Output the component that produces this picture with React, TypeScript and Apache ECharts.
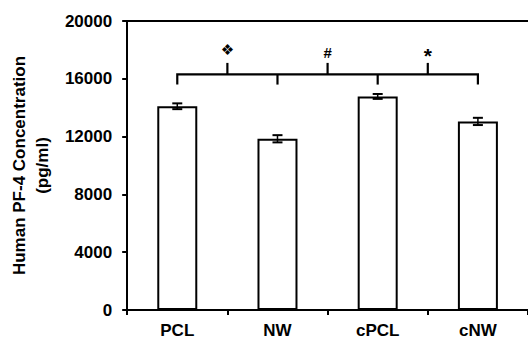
import React, { useEffect, useRef } from "react";
import * as echarts from "echarts";

const categories = ["PCL", "NW", "cPCL", "cNW"];
const means = [14100, 11850, 14780, 13050];
const errors = [200, 250, 170, 250];
const yTicks = { min: 0, max: 20000, interval: 4000 };

// significance bracket
const bracketFrom = 0;
const bracketTo = 3;
const bracketDrops = [1, 2];
const bracketLevel = 16300;
const bracketFoot = 15600;
const bracketPeak = 17100;
const marks = ["❖", "#", "*"];
const markLevels = [18000, 17850, 17620];
const markSizes = [15, 15, 21];

const FONT = "'Liberation Sans', Arial, sans-serif";

export default function App() {
  const ref = useRef<HTMLDivElement>(null);
  useEffect(() => {
    if (!ref.current) return;
    const chart = echarts.init(ref.current, undefined, { renderer: "svg" });
    const errData = means.map((m, i) => [i, m, errors[i]]);
    chart.setOption({
      animation: false,
      backgroundColor: "#fff",
      grid: { left: 117, right: -3, top: 21, bottom: 28, containLabel: false },
      xAxis: [
        {
          type: "category",
          data: categories,
          position: "bottom",
          axisLine: { lineStyle: { color: "#000", width: 2 } },
          axisTick: { show: true, length: 5, lineStyle: { color: "#000", width: 2 } },
          axisLabel: { color: "#000", fontSize: 17, fontWeight: "bold", fontFamily: FONT, margin: 12 },
        },
        {
          type: "category",
          data: categories,
          position: "top",
          axisLine: { show: true, lineStyle: { color: "#000", width: 2 } },
          axisTick: { show: false },
          axisLabel: { show: false },
        },
      ],
      yAxis: {
        type: "value",
        min: yTicks.min,
        max: yTicks.max,
        interval: yTicks.interval,
        name: "Human PF-4 Concentration\n(pg/ml)",
        nameLocation: "middle",
        nameGap: 62,
        nameTextStyle: { color: "#000", fontSize: 17, fontWeight: "bold", fontFamily: FONT, lineHeight: 23 },
        axisLine: { show: true, lineStyle: { color: "#000", width: 2 } },
        axisTick: { show: true, length: 5, lineStyle: { color: "#000", width: 2 } },
        splitLine: { show: false },
        axisLabel: {
          color: "#000",
          fontSize: 17,
          fontWeight: "bold",
          fontFamily: FONT,
          margin: 15,
          formatter: (v: number) => String(v),
        },
      },
      series: [
        {
          type: "bar",
          data: means,
          barWidth: 40,
          itemStyle: { color: "#fff", borderColor: "#000", borderWidth: 2 },
          z: 2,
        },
        {
          type: "custom",
          xAxisIndex: 0,
          data: errData,
          z: 5,
          renderItem: (params: any, api: any) => {
            const x = api.value(0);
            const y = api.value(1);
            const e = api.value(2);
            const top = api.coord([x, y + e]);
            const bot = api.coord([x, y - e]);
            const hw = 5;
            const st = { stroke: "#000", lineWidth: 2 };
            return {
              type: "group",
              children: [
                { type: "line", shape: { x1: top[0], y1: top[1], x2: bot[0], y2: bot[1] }, style: { stroke: "#000", lineWidth: 1.5 } },
                { type: "line", shape: { x1: top[0] - hw, y1: top[1], x2: top[0] + hw, y2: top[1] }, style: st },
                { type: "line", shape: { x1: bot[0] - hw, y1: bot[1], x2: bot[0] + hw, y2: bot[1] }, style: st },
              ],
            };
          },
        },
        {
          type: "custom",
          xAxisIndex: 0,
          data: [[0, bracketLevel]],
          z: 6,
          renderItem: (params: any, api: any) => {
            const st = { stroke: "#000", lineWidth: 2.2, fill: null };
            const left = api.coord([bracketFrom, bracketFoot]);
            const leftTop = api.coord([bracketFrom, bracketLevel]);
            const right = api.coord([bracketTo, bracketFoot]);
            const rightTop = api.coord([bracketTo, bracketLevel]);
            const children: any[] = [
              {
                type: "polyline",
                shape: { points: [left, leftTop, rightTop, right] },
                style: st,
              },
            ];
            bracketDrops.forEach((c) => {
              const a = api.coord([c, bracketLevel]);
              const b = api.coord([c, bracketFoot]);
              children.push({ type: "line", shape: { x1: a[0], y1: a[1], x2: b[0], y2: b[1] }, style: st });
            });
            marks.forEach((m, i) => {
              const p1 = api.coord([bracketFrom + i, bracketLevel]);
              const p2 = api.coord([bracketFrom + i + 1, bracketLevel]);
              const mx = (p1[0] + p2[0]) / 2;
              const pk = api.coord([bracketFrom + i, bracketPeak]);
              const ml = api.coord([bracketFrom + i, markLevels[i]]);
              children.push({ type: "line", shape: { x1: mx, y1: p1[1], x2: mx, y2: pk[1] }, style: st });
              children.push({
                type: "text",
                style: {
                  text: m,
                  x: mx,
                  y: ml[1],
                  align: "center",
                  verticalAlign: "middle",
                  fill: "#000",
                  font: `bold ${markSizes[i]}px ${i === 0 ? "'DejaVu Sans'" : FONT}`,
                },
              });
            });
            return { type: "group", children };
          },
        },
      ],
    });
    return () => chart.dispose();
  }, []);
  return <div ref={ref} style={{ position: "fixed", left: 0, top: 0, width: 528, height: 339 }} />;
}
